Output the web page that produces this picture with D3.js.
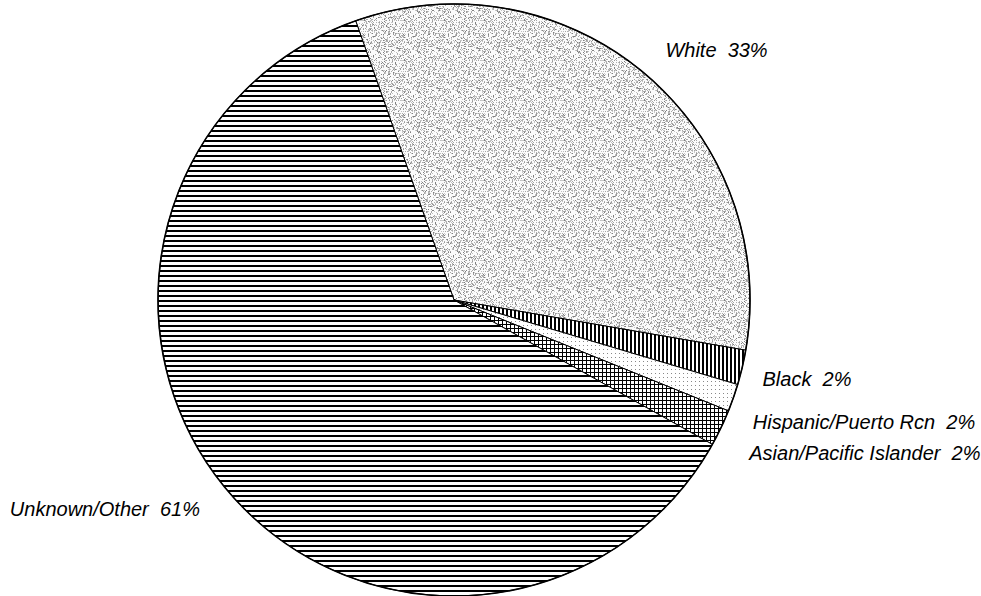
<!DOCTYPE html>
<html><head><meta charset="utf-8">
<script src="https://cdn.jsdelivr.net/npm/d3@7"></script>
<style>html,body{margin:0;padding:0;background:#fff;}svg{display:block;}</style>
</head><body>
<svg id="chart" width="981" height="596"></svg>
<script>
// ---- data ----
const categories = ["White", "Black", "Hispanic/Puerto Rcn", "Asian/Pacific Islander", "Unknown/Other"];
const values = [33.1, 1.9, 1.5, 2.0, 61.5];          // share of total, %
const labelPercents = ["33%", "2%", "2%", "2%", "61%"]; // printed labels
const patterns = ["stipple", "vlines", "dots", "hatch", "hlines"];

// ---- layout ----
const W = 981, H = 596;
const cx = 454, cy = 300, R = 296;
const startDeg = -19.4;
const labelNudge = [[3, -2], [-6, 6], [-6, 16], [4, 14], [-7, 2]];

const svg = d3.select("#chart");
const defs = svg.append("defs");

function pat(id, w, h) {
  return defs.append("pattern").attr("id", id).attr("patternUnits", "userSpaceOnUse")
    .attr("width", w).attr("height", h).attr("shape-rendering", "crispEdges");
}
// stipple (deterministic hashed dot texture)
{
  const n = 40;
  const p = pat("stipple", n, n);
  p.append("rect").attr("width", n).attr("height", n).attr("fill", "#fbfbfb");
  const greys = ["#9a9a9a", "#b0b0b0", "#c0c0c0", "#808080", "#c8c8c8", "#a8a8a8"];
  for (let y = 0; y < n; y++) {
    for (let x = 0; x < n; x++) {
      let h = (x * 374761393 + y * 668265263) >>> 0;
      h = Math.imul(h ^ (h >>> 13), 1274126177) >>> 0;
      h = (h ^ (h >>> 16)) >>> 0;
      if (h % 100 < 34) {
        p.append("rect").attr("x", x).attr("y", y).attr("width", 1).attr("height", 1)
          .attr("fill", greys[(h >>> 8) % greys.length]);
      }
    }
  }
}
// vertical lines
{
  const p = pat("vlines", 4, 4);
  p.append("rect").attr("width", 4).attr("height", 4).attr("fill", "#fff");
  p.append("rect").attr("x", 0).attr("width", 2).attr("height", 4).attr("fill", "#000");
}
// sparse dots
{
  const p = pat("dots", 4, 4);
  p.append("rect").attr("width", 4).attr("height", 4).attr("fill", "#fff");
  p.append("rect").attr("x", 1).attr("y", 1).attr("width", 1).attr("height", 1).attr("fill", "#888");
}
// cross hatch
{
  const p = pat("hatch", 4, 4);
  p.append("rect").attr("width", 4).attr("height", 4).attr("fill", "#fff");
  p.append("rect").attr("x", 0).attr("width", 1).attr("height", 4).attr("fill", "#000");
  p.append("rect").attr("y", 0).attr("width", 4).attr("height", 1).attr("fill", "#000");
}
// horizontal lines
{
  const p = pat("hlines", 5, 5);
  p.append("rect").attr("width", 5).attr("height", 5).attr("fill", "#fff");
  p.append("rect").attr("y", 0).attr("width", 5).attr("height", 2).attr("fill", "#000");
}

const data = categories.map((c, i) => ({ name: c, value: values[i], pct: labelPercents[i], pattern: patterns[i], i }));

const pie = d3.pie().sort(null).value(d => d.value)
  .startAngle(startDeg * Math.PI / 180)
  .endAngle((startDeg + 360) * Math.PI / 180);
const arcs = pie(data);
const arc = d3.arc().innerRadius(0).outerRadius(R);

const g = svg.append("g").attr("transform", `translate(${cx},${cy})`);
g.selectAll("path.slice").data(arcs).join("path")
  .attr("class", "slice")
  .attr("d", arc)
  .attr("fill", d => `url(#${d.data.pattern})`)
  .attr("stroke", "#000").attr("stroke-width", 1).attr("stroke-linejoin", "round");

g.append("circle").attr("r", R).attr("fill", "none").attr("stroke", "#000").attr("stroke-width", 1.6);

const LR = R + 27;
g.selectAll("text.lbl").data(arcs).join("text")
  .attr("class", "lbl")
  .attr("x", d => { const a = (d.startAngle + d.endAngle) / 2; return LR * Math.sin(a) + labelNudge[d.data.i][0]; })
  .attr("y", d => { const a = (d.startAngle + d.endAngle) / 2; return -LR * Math.cos(a) + 6 + labelNudge[d.data.i][1]; })
  .attr("text-anchor", d => { const a = (d.startAngle + d.endAngle) / 2; return Math.sin(a) >= 0 ? "start" : "end"; })
  .attr("font-family", "Liberation Sans, Arial, sans-serif")
  .attr("font-style", "italic")
  .attr("font-size", 20)
  .attr("fill", "#000")
  .style("white-space", "pre")
  .text(d => d.data.name + "  " + d.data.pct);
</script>
</body></html>
